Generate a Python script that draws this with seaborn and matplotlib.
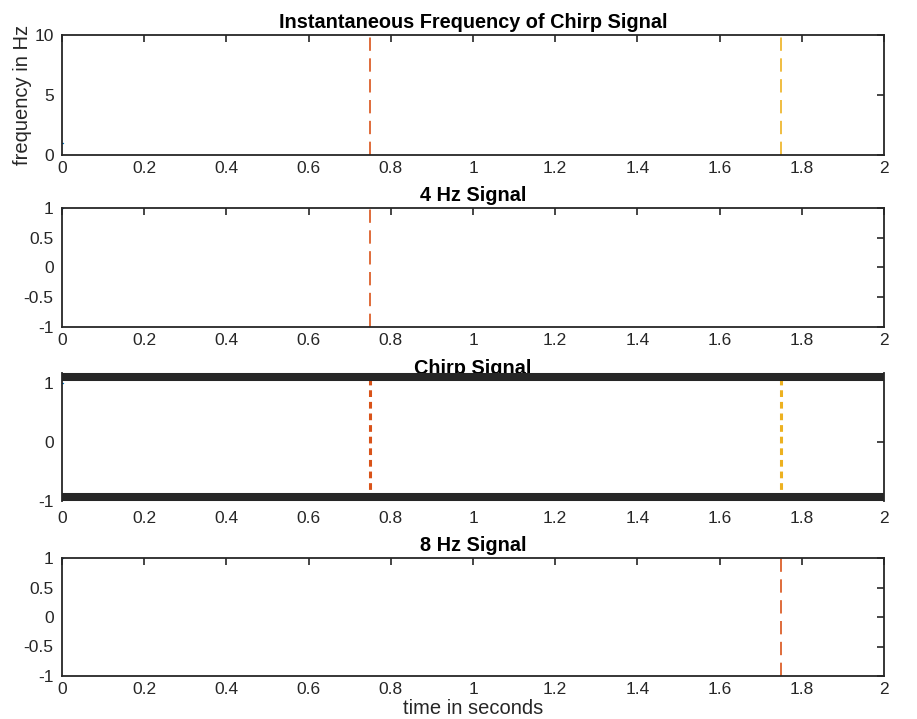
import numpy as np
import pandas as pd
import matplotlib
matplotlib.use("Agg")
import matplotlib.pyplot as plt
import seaborn as sns

# values
t_data = [0.0, 0.003]
freq_data = [1.0, 1.0]
sig4_data = [1.0, 1.0]
chirp_data = [1.0, 1.0]
sig8_data = [1.0, 1.0]

chirp_marks = [0.75, 1.75]
sig4_marks = [0.75]
sig8_marks = [1.75]

x_ticks = [0, 0.2, 0.4, 0.6, 0.8, 1, 1.2, 1.4, 1.6, 1.8, 2]
x_labels = ["0", "0.2", "0.4", "0.6", "0.8", "1", "1.2", "1.4", "1.6", "1.8", "2"]
freq_ticks = [0, 5, 10]
sig_ticks = [-1, -0.5, 0, 0.5, 1]
sig_labels = ["-1", "-0.5", "0", "0.5", "1"]
chirp_ticks = [-1, 0, 1]

titles = ["Instantaneous Frequency of Chirp Signal", "4 Hz Signal",
          "Chirp Signal", "8 Hz Signal"]

blue = "#0072BD"
orange = "#D95319"
yellow = "#EDB120"
dark = "#262626"

sns.set_theme(style="white")
plt.rcParams["font.family"] = ["Liberation Sans", "DejaVu Sans"]

fig = plt.figure(figsize=(9.17, 7.19), dpi=100)
W, H = 917, 719
left, right = 62, 884
boxes = [(35, 155), (208, 327), (373, 501), (558, 676)]
axes = []
for top, bot in boxes:
    ax = fig.add_axes([left / W, 1 - bot / H, (right - left) / W, (bot - top) / H])
    axes.append(ax)

df = pd.DataFrame({"t": t_data, "freq": freq_data, "s4": sig4_data,
                   "chirp": chirp_data, "s8": sig8_data})

# panel 1
ax = axes[0]
sns.lineplot(data=df, x="t", y="freq", ax=ax, color=blue, lw=1)
for m, c in zip(chirp_marks, [orange, yellow]):
    ax.axvline(m, color=c, lw=1.2, dashes=(8, 4.5))
ax.set_ylim(0, 10)
ax.set_yticks(freq_ticks)
ax.set_yticklabels([str(v) for v in freq_ticks])

# panel 2
ax = axes[1]
sns.lineplot(data=df, x="t", y="s4", ax=ax, color=blue, lw=1)
for m in sig4_marks:
    ax.axvline(m, color=orange, lw=1.2, dashes=(8, 4.5))
ax.set_ylim(-1, 1)
ax.set_yticks(sig_ticks)
ax.set_yticklabels(sig_labels)

# panel 3
ax = axes[2]
sns.lineplot(data=df, x="t", y="chirp", ax=ax, color=blue, lw=1)
for m, c in zip(chirp_marks, [orange, yellow]):
    ax.axvline(m, color=c, lw=2.2, dashes=(2.2, 1.6))
ax.set_ylim(-1, 1.17)
ax.set_yticks(chirp_ticks)
ax.set_yticklabels([str(v) for v in chirp_ticks])

# panel 4
ax = axes[3]
sns.lineplot(data=df, x="t", y="s8", ax=ax, color=blue, lw=1)
for m in sig8_marks:
    ax.axvline(m, color=orange, lw=1.2, dashes=(8, 4.5))
ax.set_ylim(-1, 1)
ax.set_yticks(sig_ticks)
ax.set_yticklabels(sig_labels)

for i, ax in enumerate(axes):
    ax.set_xlim(0, 2)
    ax.set_xticks(x_ticks)
    ax.set_xticklabels(x_labels)
    ax.set_xlabel("")
    ax.set_ylabel("")
    ax.tick_params(direction="in", length=5, width=1.2, colors=dark,
                   labelsize=12.5, top=True, right=True)
    ax.tick_params(axis="x", pad=4)
    ax.tick_params(axis="y", pad=6)
    for s in ax.spines.values():
        s.set_color(dark)
        s.set_linewidth(1.3)
        s.set_visible(True)
    t = ax.set_title(titles[i], fontsize=14.3, fontweight="bold", color="black", pad=5)
    t.set_zorder(0.5)

axes[0].set_ylabel("frequency in Hz", fontsize=14.5, color=dark, labelpad=2)
axes[3].set_xlabel("time in seconds", fontsize=14.5, color=dark, labelpad=2)

# thick box edges on the chirp panel
ax = axes[2]
for side in ["top", "bottom"]:
    sp = ax.spines[side]
    sp.set_linewidth(5.8)
    sp.set_capstyle("butt")
    sp.set_position(("outward", -2.9))
ax.tick_params(axis="x", length=0, pad=10)
for tk in ax.yaxis.get_major_ticks():
    if tk.get_loc() != 0:
        tk.tick1line.set_visible(False)
        tk.tick2line.set_visible(False)
ax.set_title(titles[2], fontsize=14.3, fontweight="bold", color="black", pad=-1).set_zorder(0.5)

fig.savefig("out.png", dpi=100)
